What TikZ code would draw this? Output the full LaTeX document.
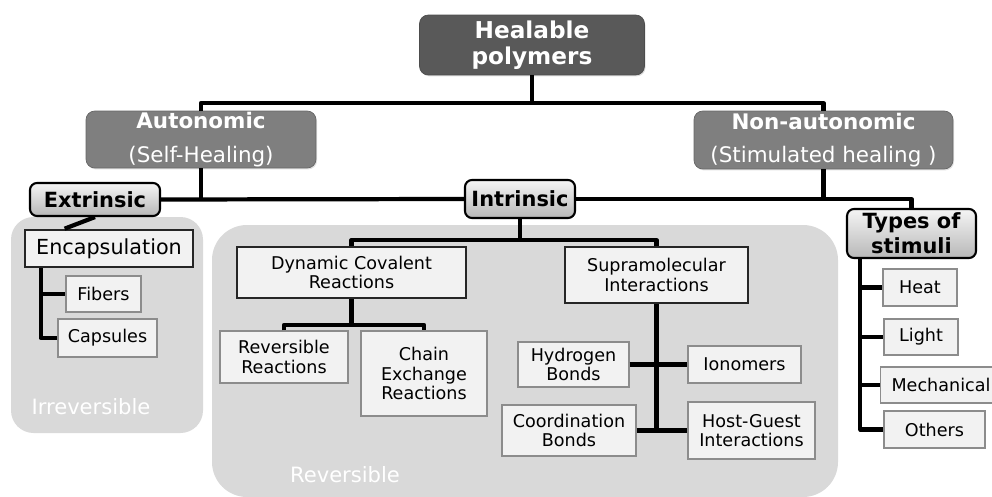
\documentclass[tikz,border=0pt]{standalone}
\usepackage{fontspec}
\setmainfont{DejaVu Sans}
\usetikzlibrary{calc,shadows}

\definecolor{darkbox}{HTML}{595959}
\definecolor{modegray}{HTML}{7F7F7F}
\definecolor{panelgray}{HTML}{D9D9D9}
\definecolor{leaffill}{HTML}{F2F2F2}
\definecolor{leafline}{HTML}{8C8C8C}

\tikzset{
  softshadow/.style={drop shadow={opacity=0.25,shadow xshift=0.6pt,shadow yshift=-0.8pt}},
  topbox/.style={fill=darkbox, draw=darkbox!85!black, rounded corners=5pt, text=white, align=center,
    inner sep=0pt, font=\fontsize{13.2}{15}\selectfont\bfseries, softshadow},
  modebox/.style={fill=modegray, draw=modegray!80!black, rounded corners=5pt, text=white, align=center,
    inner sep=0pt, font=\fontsize{12.2}{19}\selectfont, softshadow},
  catbox/.style={top color=white!96!black, bottom color=black!28, draw=black, line width=1.2pt,
    rounded corners=4pt, align=center, inner sep=0pt, font=\fontsize{11.9}{14}\selectfont\bfseries},
  groupbox/.style={fill=leaffill, draw=black!85, line width=1.5pt, align=center, inner sep=0pt,
    font=\fontsize{10}{11.3}\selectfont, softshadow},
  leafbox/.style={fill=leaffill, draw=leafline, line width=0.7pt, align=center, inner sep=0pt,
    font=\fontsize{10}{11}\selectfont, softshadow},
  panel/.style={fill=panelgray},
  paneltext/.style={text=white, font=\fontsize{12}{14}\selectfont},
  link/.style={line width=2.4pt, line join=round}
}

\begin{document}
\begin{tikzpicture}[x=0.02cm, y=-0.02cm]

\useasboundingbox (0,0) rectangle (992,497);

% background groups
\fill[panel, rounded corners=0.45cm] (11,217) rectangle (203,433);
\fill[panel, rounded corners=0.7cm] (212,225) rectangle (838,497);
\node[paneltext] (irrev) at (91,407) {Irreversible};
\node[paneltext] (rev) at (345,475) {Reversible};

% top levels
\node[topbox, minimum width=4.5cm, minimum height=1.2cm] (healable) at (532,45) {Healable\\polymers};
\node[modebox, minimum width=4.6cm, minimum height=1.14cm] (autonomic) at (201,139.5) {\textbf{Autonomic}\\(Self-Healing)};
\node[modebox, minimum width=5.18cm, minimum height=1.16cm] (nonauto) at (823.5,140) {\textbf{Non-autonomic}\\(Stimulated healing )};

\node[catbox, minimum width=2.6cm, minimum height=0.66cm] (extrinsic) at (95,199.5) {Extrinsic};
\node[catbox, minimum width=2.2cm, minimum height=0.76cm] (intrinsic) at (520,199) {Intrinsic};
\node[catbox, minimum width=2.58cm, minimum height=0.98cm] (types) at (911.5,233.5) {Types of\\stimuli};

% extrinsic branch
\node[groupbox, font=\fontsize{11.8}{13}\selectfont, minimum width=3.36cm, minimum height=0.74cm] (encaps) at (109,248.5) {Encapsulation};
\node[leafbox, minimum width=1.5cm, minimum height=0.72cm] (fibers) at (103.5,294) {Fibers};
\node[leafbox, minimum width=1.98cm, minimum height=0.76cm] (capsules) at (107.5,338) {Capsules};

% intrinsic branch
\node[groupbox, minimum width=4.58cm, minimum height=1.02cm] (dynamic) at (351.5,272.5) {Dynamic Covalent\\Reactions};
\node[groupbox, minimum width=3.66cm, minimum height=1.12cm] (supra) at (656.5,275) {Supramolecular\\Interactions};
\node[leafbox, minimum width=2.56cm, minimum height=1.04cm] (revreact) at (284,357) {Reversible\\Reactions};
\node[leafbox, minimum width=2.52cm, minimum height=1.7cm] (chain) at (424,373.5) {Chain\\Exchange\\Reactions};
\node[leafbox, minimum width=2.22cm, minimum height=0.9cm] (hydrogen) at (573.5,364.5) {Hydrogen\\Bonds};
\node[leafbox, minimum width=2.26cm, minimum height=0.74cm] (ionomers) at (744.5,364.5) {Ionomers};
\node[leafbox, minimum width=2.68cm, minimum height=1.02cm] (coord) at (569,430.5) {Coordination\\Bonds};
\node[leafbox, minimum width=2.54cm, minimum height=1.14cm] (hostguest) at (751.5,430.5) {Host-Guest\\Interactions};

% stimuli
\node[leafbox, minimum width=1.48cm, minimum height=0.74cm] (heat) at (920,287.5) {Heat};
\node[leafbox, minimum width=1.48cm, minimum height=0.72cm] (light) at (921,337) {Light};
\node[leafbox, minimum width=2.42cm, minimum height=0.72cm] (mech) at (941,385) {Mechanical};
\node[leafbox, minimum width=2.02cm, minimum height=0.74cm] (others) at (934.5,429.5) {Others};

% junctions
\coordinate (topbus) at (healable.south |- 0,103);
\coordinate (intbus) at (intrinsic.south |- 0,240);
\coordinate (dynbus) at (dynamic.south |- 0,325);
\coordinate (encjoint) at ($(encaps.south west)!0.1!(encaps.south east)$);
\coordinate (typjoint) at ($(types.south west)!0.11!(types.south east)$);

\begin{scope}[link]
\draw (healable.south) -- (topbus);
\draw (autonomic.north) |- (topbus) -| (nonauto.north);
\draw (autonomic.south) -- (autonomic.south |- extrinsic.east);
\draw (extrinsic.east) -- (intrinsic.west);
\draw (nonauto.south) |- (intrinsic.east);
\draw (nonauto.south |- intrinsic.east) -| (types.north);
\draw (extrinsic.south) -- ($(encaps.north west)!0.24!(encaps.north east)$);
\draw (encjoint) |- (capsules.west);
\draw (encjoint |- fibers.west) -- (fibers.west);
\draw (intrinsic.south) -- (intbus);
\draw (dynamic.north) |- (intbus) -| (supra.north);
\draw (dynamic.south) -- (dynbus);
\draw (revreact.north) |- (dynbus) -| (chain.north);
\draw (supra.south) -- (supra.south |- coord.east);
\draw (hydrogen.east) -- (ionomers.west);
\draw (coord.east) -- (hostguest.west);
\draw (typjoint) |- (others.west);
\draw (typjoint |- heat.west) -- (heat.west);
\draw (typjoint |- light.west) -- (light.west);
\draw (typjoint |- mech.west) -- (mech.west);
\end{scope}

\end{tikzpicture}
\end{document}
